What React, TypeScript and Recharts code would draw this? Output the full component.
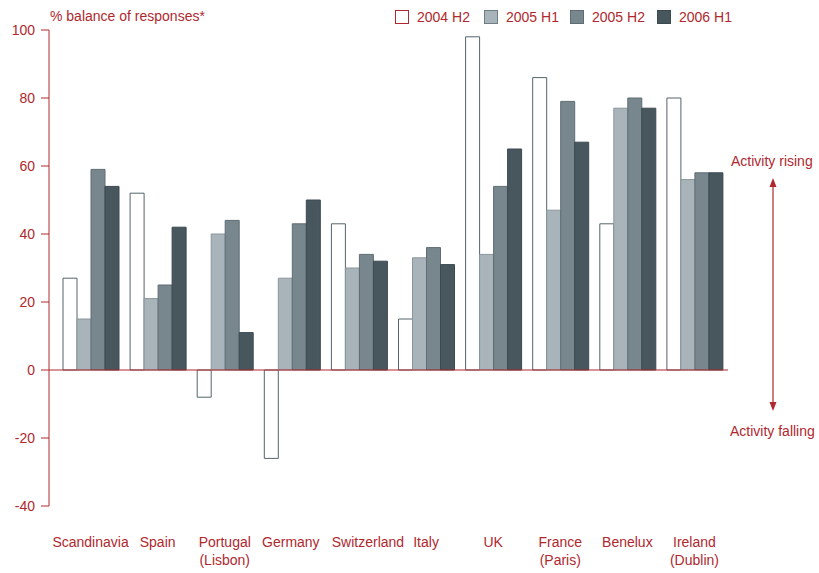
import { BarChart, Bar, XAxis, YAxis, ReferenceLine } from 'recharts';

const RED = '#b0282e';
const FONT = '"Liberation Sans", Arial, Helvetica, sans-serif';

const categories = [
  'Scandinavia', 'Spain', 'Portugal\n(Lisbon)', 'Germany', 'Switzerland',
  'Italy', 'UK', 'France\n(Paris)', 'Benelux', 'Ireland\n(Dublin)',
];
const h2_2004 = [27, 52, -8, -26, 43, 15, 98, 86, 43, 80];
const h1_2005 = [15, 21, 40, 27, 30, 33, 34, 47, 77, 56];
const h2_2005 = [59, 25, 44, 43, 34, 36, 54, 79, 80, 58];
const h1_2006 = [54, 42, 11, 50, 32, 31, 65, 67, 77, 58];
const yTicks = [-40, -20, 0, 20, 40, 60, 80, 100];

const series = [
  { key: 'h2_2004', name: '2004 H2', fill: '#ffffff', stroke: '#56646b', legendStroke: RED },
  { key: 'h1_2005', name: '2005 H1', fill: '#a9b4ba', stroke: '#8a969c', legendStroke: '#6f7d84' },
  { key: 'h2_2005', name: '2005 H2', fill: '#78878e', stroke: '#5e6c73', legendStroke: '#5e6c73' },
  { key: 'h1_2006', name: '2006 H1', fill: '#48575e', stroke: '#3c494f', legendStroke: '#3c494f' },
];
// left edge of each legend swatch
const legendLeft = [395, 484, 570, 657];
// nudge long labels so neighbours don't collide
const labelShift: Record<string, number> = { Switzerland: 9, Germany: -1 };

const rows = categories.map((c, i) => ({
  name: c,
  h2_2004: h2_2004[i],
  h1_2005: h1_2005[i],
  h2_2005: h2_2005[i],
  h1_2006: h1_2006[i],
}));

const CategoryTick = (props: any) => {
  const { x, y, payload } = props;
  const label = String(payload.value);
  const lines = label.split('\n');
  const cx = x + (labelShift[label] ?? 0);
  return (
    <text x={cx} y={y} textAnchor="middle" fill={RED} fontSize={14} fontFamily={FONT}>
      {lines.map((l, i) => (
        <tspan key={i} x={cx} dy={i === 0 ? 33 : 18}>{l}</tspan>
      ))}
    </text>
  );
};

const textStyle = { position: 'absolute' as const, fontSize: 14, color: RED, whiteSpace: 'nowrap' as const };

export default function App() {
  return (
    <div style={{ position: 'absolute', left: 0, top: 0, width: 819, height: 573, background: '#fff', fontFamily: FONT }}>
      <BarChart
        width={819}
        height={573}
        data={rows}
        margin={{ top: 30, right: 91, bottom: 0, left: 0 }}
        barCategoryGap={6}
        barGap={0}
      >
        <XAxis
          dataKey="name"
          axisLine={false}
          tickLine={false}
          height={67}
          interval={0}
          padding={{ left: 8, right: 0 }}
          tick={<CategoryTick />}
        />
        <YAxis
          domain={[-40, 100]}
          ticks={yTicks}
          width={49}
          tickSize={8}
          tickMargin={6}
          axisLine={{ stroke: RED }}
          tickLine={{ stroke: RED }}
          tick={{ fill: RED, fontSize: 14, fontFamily: FONT }}
          interval={0}
        />
        {series.map((s) => (
          <Bar
            key={s.key}
            dataKey={s.key}
            name={s.name}
            fill={s.fill}
            stroke={s.stroke}
            strokeWidth={1}
            isAnimationActive={false}
          />
        ))}
        <ReferenceLine y={0} stroke={RED} strokeWidth={1.2} />
      </BarChart>

      {/* legend */}
      {series.map((s, i) => (
        <div key={s.key} style={{ ...textStyle, left: legendLeft[i], top: 9, display: 'flex', alignItems: 'center' }}>
          <span style={{ display: 'inline-block', width: 12, height: 12, background: s.fill, border: `1px solid ${s.legendStroke}`, marginRight: 8 }} />
          <span>{s.name}</span>
        </div>
      ))}

      <div style={{ ...textStyle, left: 50, top: 8 }}>% balance of responses*</div>

      <div style={{ ...textStyle, left: 731, top: 153 }}>Activity rising</div>
      <div style={{ ...textStyle, left: 730, top: 423 }}>Activity falling</div>
      <svg style={{ position: 'absolute', left: 760, top: 170 }} width={26} height={250}>
        <line x1={13} y1={14} x2={13} y2={234} stroke={RED} strokeWidth={1.2} />
        <polygon points="13,8 9.5,17 16.5,17" fill={RED} />
        <polygon points="13,241 9.5,232 16.5,232" fill={RED} />
      </svg>
    </div>
  );
}
